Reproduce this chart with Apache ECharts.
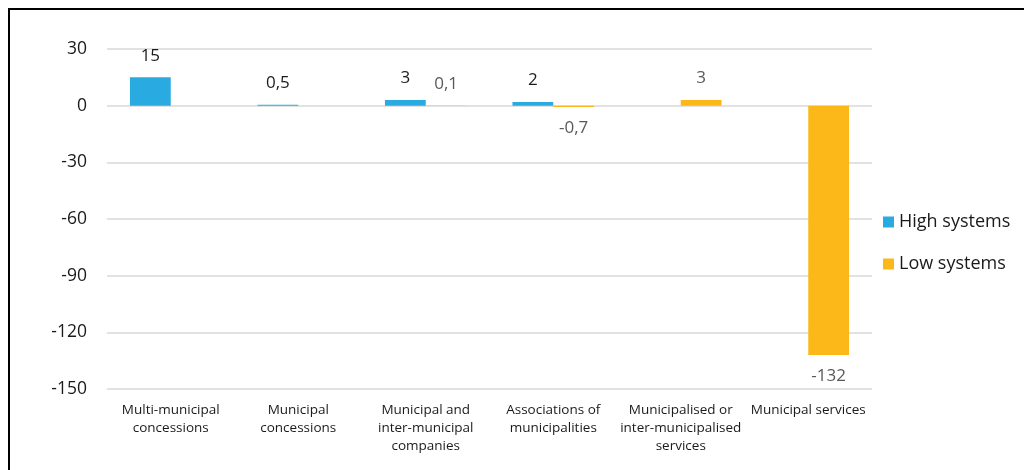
<!DOCTYPE html>
<html>
<head>
<meta charset="utf-8">
<script src="https://cdn.jsdelivr.net/npm/echarts@6/dist/echarts.min.js"></script>
<style>
html,body{margin:0;padding:0;background:#fff;}
#frame{position:absolute;left:8px;top:8px;width:1030px;height:480px;border-top:2px solid #000;border-left:2px solid #000;}
#chart{position:absolute;left:0;top:0;width:1024px;height:470px;}
</style>
</head>
<body>
<div id="frame"></div>
<div id="chart"></div>
<script>
const categories = ['Multi-municipal\nconcessions','Municipal\nconcessions','Municipal and\ninter-municipal\ncompanies','Associations of\nmunicipalities','Municipalised or\ninter-municipalised\nservices','Municipal services'];
const highSystems = [15, 0.5, 3, 2, null, null];
const lowSystems = [null, null, 0.1, -0.7, 3, -132];
const yTicks = {min: -150, max: 30, interval: 30};

const fmt = p => (p.value == null ? '' : String(p.value).replace('.', ','));
const font = 'Open Sans';
function labelPos(v){ return v < 0 ? 'bottom' : 'top'; }

const chart = echarts.init(document.getElementById('chart'));
chart.setOption({
  animation: false,
  textStyle: {fontFamily: font},
  grid: {left: 107, right: 152, top: 49, bottom: 81, containLabel: false},
  legend: {
    orient: 'vertical', left: 878, top: 208, itemGap: 24,
    itemWidth: 11, itemHeight: 11, icon: 'rect',
    textStyle: {fontSize: 18, color: '#1a1a1a', fontFamily: font},
    data: ['High systems','Low systems']
  },
  xAxis: {
    type: 'category', data: categories,
    axisLine: {show: false}, axisTick: {show: false},
    axisLabel: {fontSize: 13.5, color: '#1a1a1a', lineHeight: 18, margin: 12, interval: 0, fontFamily: font}
  },
  yAxis: {
    type: 'value', min: yTicks.min, max: yTicks.max, interval: yTicks.interval,
    axisLine: {show: false}, axisTick: {show: false},
    axisLabel: {fontSize: 17.5, color: '#1a1a1a', margin: 20, fontFamily: font},
    splitLine: {lineStyle: {color: '#d9d9d9', width: 1.5}}
  },
  series: [
    {
      name: 'High systems', type: 'bar', barWidth: '32%', barGap: '0%',
      itemStyle: {color: '#29abe2'},
      data: highSystems.map(v => ({value: v, label: {position: labelPos(v)}})),
      label: {show: true, formatter: fmt, fontSize: 17, color: '#1a1a1a', distance: 13, fontFamily: font}
    },
    {
      name: 'Low systems', type: 'bar', barWidth: '32%',
      itemStyle: {color: '#fbb818'},
      data: lowSystems.map(v => ({value: v, label: {position: labelPos(v)}})),
      label: {show: true, formatter: fmt, fontSize: 17, color: '#595959', distance: 13, fontFamily: font}
    }
  ]
});
</script>
</body>
</html>
